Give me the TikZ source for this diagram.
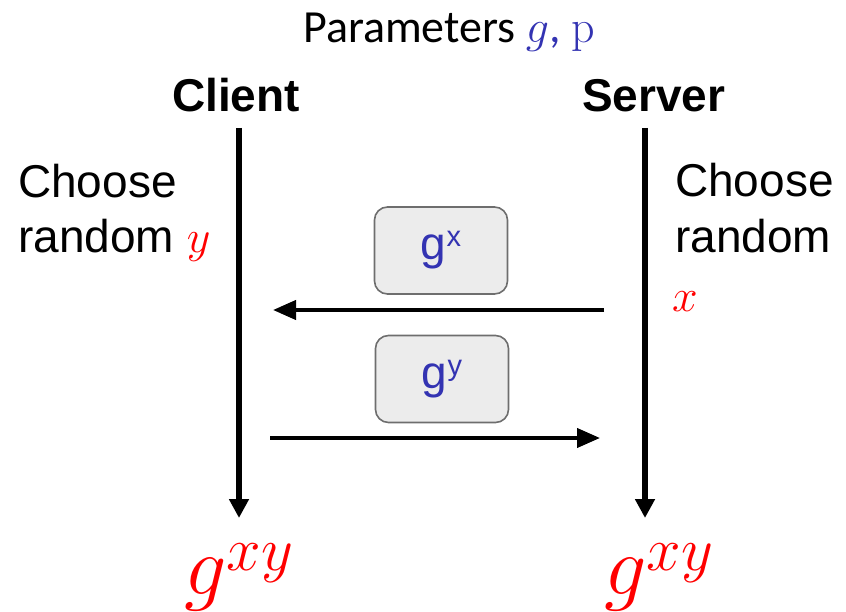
\RequirePackage{fix-cm}
\documentclass[tikz,border=0pt]{standalone}
\usepackage[no-math]{fontspec}
\setmainfont{Liberation Sans}
\newfontfamily\titlefont{Carlito}
\usetikzlibrary{arrows.meta}
\definecolor{keyblue}{RGB}{51,51,178}
\definecolor{secretred}{RGB}{255,0,0}
\definecolor{boxfill}{RGB}{236,236,236}
\definecolor{boxedge}{RGB}{110,110,110}
% font size helper
\newcommand{\sz}[1]{\fontsize{#1}{#1}\selectfont}
% shared secret g^{xy}
\newcommand{\shared}{{\sz{84}$g$}\raisebox{24pt}{\sz{62}$xy$}}
% public value g^{(.)} in a message box
\newcommand{\pubkey}[1]{g\raisebox{13pt}{\sz{29}#1}}
\begin{document}
\begin{tikzpicture}[x=1pt,y=-1pt,
  txt/.style={inner sep=0pt, anchor=base west, font=\sz{46}},
  party/.style={txt, font=\sz{46}\bfseries},
  msgbox/.style={draw=boxedge, fill=boxfill, line width=1.6pt, rounded corners=13pt,
    minimum width=133pt, minimum height=87pt, inner sep=0pt, text=keyblue, font=\sz{46}},
  timeline/.style={line width=6pt, -{Triangle[length=19pt,width=19pt]}},
  msg/.style={line width=4pt, -{Triangle[length=23pt,width=19pt]}}]
\useasboundingbox (0,0) rectangle (846,612);

% title
\node[txt, font=\titlefont\sz{46}] (title) at (303,43)
  {Parameters \textcolor{keyblue}{$g$, $\mathrm{p}$}};

% parties
\node[party] (client) at (172,112) {Client};
\node[party] (server) at (582,112) {Server};

% local choices
\node[txt] (cchoose) at (18,198) {Choose};
\node[txt] (crandom) at (18,253) {random \textcolor{secretred}{$y$}};
\node[txt] (schoose) at (675,197) {Choose};
\node[txt] (srandom) at (675,253) {random};
\node[txt] (sx) at (672,312) {\textcolor{secretred}{$x$}};

% timelines
\coordinate (ctop) at (239,128);
\coordinate (cend) at (239,518);
\coordinate (stop) at (645,128);
\coordinate (send) at (645,518);
\draw[timeline] (ctop) -- (cend);
\draw[timeline] (stop) -- (send);

% messages
\node[msgbox] (gx) at (441,250.5) {\pubkey{x}};
\node[msgbox] (gy) at (442,379) {\pubkey{y}};

\coordinate (c1) at (239,310);
\coordinate (s1) at (645,310);
\coordinate (c2) at (239,438);
\coordinate (s2) at (645,438);
\draw[msg, shorten <=41pt, shorten >=34pt] (s1) -- (c1);
\draw[msg, shorten <=31pt, shorten >=45pt] (c2) -- (s2);

% shared secrets
\node[inner sep=0pt, anchor=base west, text=secretred] (ckey) at (184,594) {\shared};
\node[inner sep=0pt, anchor=base west, text=secretred] (skey) at (604,594) {\shared};
\end{tikzpicture}
\end{document}
